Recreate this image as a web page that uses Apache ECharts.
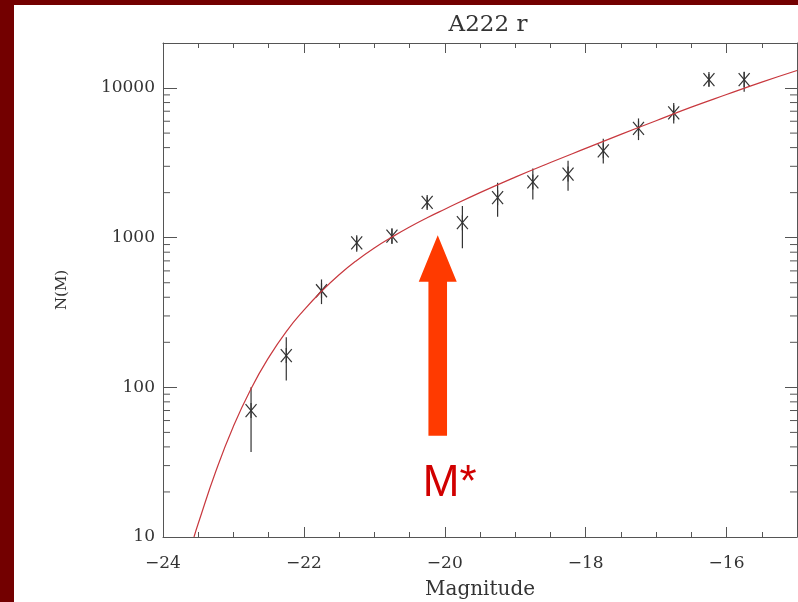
<!DOCTYPE html>
<html>
<head>
<meta charset="utf-8">
<script src="https://cdn.jsdelivr.net/npm/echarts@6/dist/echarts.min.js"></script>
<style>
  html, body { margin: 0; padding: 0; width: 798px; height: 602px; background: #730000; overflow: hidden; }
  #chart { position: absolute; left: 14px; top: 5px; width: 784px; height: 597px; background: #fff; }
</style>
</head>
<body>
<div id="chart"></div>
<script>
// measured points (asterisks) with their error bars
const magnitudes = [-22.75, -22.25, -21.75, -21.25, -20.75, -20.25, -19.75, -19.25, -18.75, -18.25, -17.75, -17.25, -16.75, -16.25, -15.75];
const counts     = [70, 163, 442, 925, 1025, 1720, 1260, 1850, 2360, 2660, 3810, 5370, 6830, 11400, 11400];
const errLow     = [37, 111, 360, 805, 906, 1570, 850, 1380, 1800, 2060, 3130, 4490, 5800, 10300, 9440];
const errHigh    = [100, 216, 526, 1014, 1153, 1875, 1626, 2328, 2905, 3268, 4582, 6266, 7960, 12400, 12830];

// fitted curve
const fitMag = [-23.56, -23.5, -23.25, -23.0, -22.75, -22.5, -22.25, -22.0, -21.75, -21.5, -21.25, -21.0, -20.75, -20.5, -20.25, -20.0, -19.5, -19.0, -18.5, -18.0, -17.5, -17.0, -16.5, -16.0, -15.5, -15.0];
const fitN   = [10, 12.3, 27.5, 55, 98, 158, 236, 328, 438, 565, 705, 855, 1010, 1180, 1360, 1550, 2000, 2540, 3180, 3950, 4900, 6050, 7450, 9050, 10950, 13100];

// axis labels / ticks
const yTickLabels = [10, 100, 1000, 10000];
const yMinorTicks = [20, 30, 40, 50, 60, 70, 80, 90, 200, 300, 400, 500, 600, 700, 800, 900, 2000, 3000, 4000, 5000, 6000, 7000, 8000, 9000];

// M* arrow (data coords)
const arrowMag = -20.1;
const arrowTipN = 1040;
const arrowHeadN = 507;
const arrowTailN = 47.5;

const axisColor = '#555';
const textColor = '#333';
const serif = 'DejaVu Serif';

const chart = echarts.init(document.getElementById('chart'));

function xAxisCfg(position, interval, tickLen, showLine, showLabel) {
  return {
    type: 'value', position: position, min: -24, max: -15, interval: interval,
    axisLine: { show: showLine, lineStyle: { color: axisColor, width: 1 } },
    axisTick: { show: true, inside: true, length: tickLen, lineStyle: { color: axisColor, width: 1 } },
    axisLabel: {
      show: showLabel, margin: 18, color: textColor, fontFamily: serif, fontSize: 17,
      showMaxLabel: false,
      formatter: function (v) { return v === -15 ? '' : (v < 0 ? '\u2212' : '') + Math.abs(v); }
    },
    splitLine: { show: false }
  };
}

function yAxisCfg(position, tickLen, showLabel) {
  return {
    type: 'log', logBase: 10, position: position, min: 10, max: 20000, splitNumber: 3,
    axisLine: { show: true, lineStyle: { color: axisColor, width: 1 } },
    axisTick: { show: true, inside: true, length: tickLen, lineStyle: { color: axisColor, width: 1 } },
    axisLabel: {
      show: showLabel, margin: 8, color: textColor, fontFamily: serif, fontSize: 17,
      showMaxLabel: false,
      formatter: function (v) {
        const r = Math.round(v);
        return yTickLabels.indexOf(r) >= 0 ? String(r) : '';
      }
    },
    splitLine: { show: false }
  };
}

const bottomX = xAxisCfg('bottom', 2, 10, true, true);
bottomX.name = 'Magnitude';
bottomX.nameLocation = 'middle';
bottomX.nameGap = 43;
bottomX.nameTextStyle = { color: textColor, fontFamily: serif, fontSize: 20 };

const leftY = yAxisCfg('left', 14, true);
leftY.name = 'N(M)';
leftY.nameLocation = 'middle';
leftY.nameGap = 93;
leftY.nameTextStyle = { color: textColor, fontFamily: serif, fontSize: 15 };

const option = {
  animation: false,
  title: {
    text: 'A222 r', left: 469, top: 4, textAlign: 'center',
    textStyle: { color: textColor, fontFamily: serif, fontWeight: 'normal', fontSize: 23 }
  },
  grid: { left: 149, top: 38, right: 1, bottom: 65, outerBoundsMode: 'none' },
  xAxis: [
    bottomX,
    xAxisCfg('bottom', 0.5, 5, false, false),
    xAxisCfg('top', 2, 10, true, false),
    xAxisCfg('top', 0.5, 5, false, false)
  ],
  yAxis: [
    leftY,
    yAxisCfg('right', 12, false)
  ],
  series: [
    {
      type: 'line',
      xAxisIndex: 0, yAxisIndex: 0,
      data: fitMag.map(function (m, i) { return [m, fitN[i]]; }),
      showSymbol: false,
      smooth: 0.5,
      lineStyle: { color: '#c8383e', width: 1.2 },
      silent: true
    },
    {
      type: 'custom',
      xAxisIndex: 0, yAxisIndex: 0,
      silent: true,
      data: yMinorTicks.map(function (v) { return [-24, v]; }),
      encode: { x: 0, y: 1 },
      renderItem: function (params, api) {
        const p = api.coord([-24, api.value(1)]);
        const left = params.coordSys.x;
        const right = params.coordSys.x + params.coordSys.width;
        const st = { stroke: axisColor, lineWidth: 1 };
        return {
          type: 'group',
          children: [
            { type: 'line', shape: { x1: left, y1: p[1], x2: left + 7, y2: p[1] }, style: st },
            { type: 'line', shape: { x1: right - 7, y1: p[1], x2: right, y2: p[1] }, style: st }
          ]
        };
      }
    },
    {
      type: 'custom',
      xAxisIndex: 0, yAxisIndex: 0,
      silent: true,
      data: magnitudes.map(function (m, i) { return [m, counts[i], errLow[i], errHigh[i]]; }),
      encode: { x: 0, y: 1 },
      renderItem: function (params, api) {
        const m = api.value(0);
        const c = api.coord([m, api.value(1)]);
        const lo = api.coord([m, api.value(2)]);
        const hi = api.coord([m, api.value(3)]);
        const hw = 5.5, hh = 6.5;
        const st = { stroke: '#333', lineWidth: 1.2 };
        return {
          type: 'group',
          children: [
            { type: 'line', shape: { x1: lo[0], y1: lo[1], x2: hi[0], y2: hi[1] }, style: st },
            { type: 'line', shape: { x1: c[0] - hw, y1: c[1] - hh, x2: c[0] + hw, y2: c[1] + hh }, style: st },
            { type: 'line', shape: { x1: c[0] - hw, y1: c[1] + hh, x2: c[0] + hw, y2: c[1] - hh }, style: st },
            { type: 'line', shape: { x1: c[0], y1: c[1] - hh - 1, x2: c[0], y2: c[1] + hh + 1 }, style: st }
          ]
        };
      }
    },
    {
      type: 'custom',
      xAxisIndex: 0, yAxisIndex: 0,
      silent: true,
      data: [[arrowMag, arrowTipN, arrowHeadN, arrowTailN]],
      encode: { x: 0, y: 1 },
      renderItem: function (params, api) {
        const m = api.value(0);
        const tip = api.coord([m, api.value(1)]);
        const head = api.coord([m, api.value(2)]);
        const tail = api.coord([m, api.value(3)]);
        const cx = tip[0];
        const hw = 19, sw = 9.3;
        return {
          type: 'group',
          children: [
            {
              type: 'polygon',
              shape: { points: [
                [cx, tip[1]], [cx + hw, head[1]], [cx + sw, head[1]], [cx + sw, tail[1]],
                [cx - sw, tail[1]], [cx - sw, head[1]], [cx - hw, head[1]]
              ] },
              style: { fill: '#ff3a00' }
            },
            {
              type: 'text',
              x: cx - 15, y: tail[1] + 48,
              style: { text: 'M*', fill: '#d10000', font: '44px "Liberation Sans"', align: 'left', verticalAlign: 'middle' }
            }
          ]
        };
      }
    }
  ]
};

chart.setOption(option);
</script>
</body>
</html>
